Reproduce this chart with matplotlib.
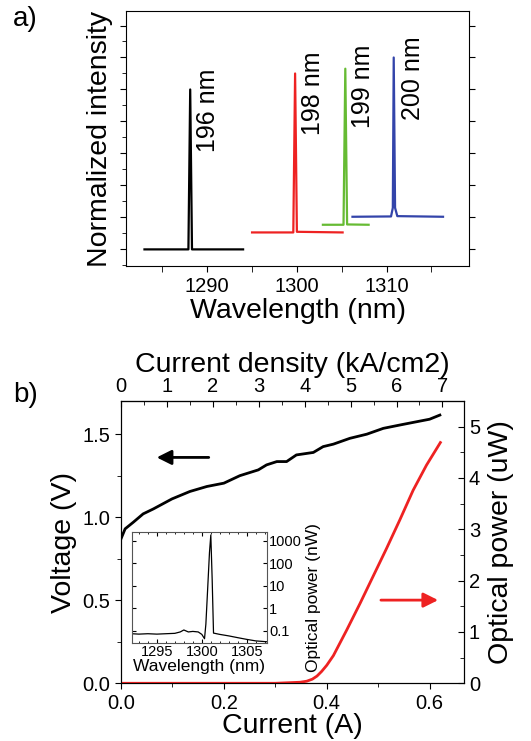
import matplotlib
matplotlib.use("Agg")
from matplotlib import pyplot as plt
from matplotlib.ticker import MultipleLocator, FixedLocator, NullLocator

plt.rcParams['font.family'] = ['Liberation Sans', 'DejaVu Sans']

# panel a: lasing spectra for four devices (wavelength nm, normalized intensity)
black_wl = [1283.0, 1287.9, 1288.1, 1288.3, 1294.0]
black_int = [0.0, 0.0, 5.0, 0.0, 0.0]
red_wl = [1295.0, 1299.6, 1299.8, 1300.0, 1305.1]
red_int = [0.53, 0.53, 5.5, 0.55, 0.53]
green_wl = [1302.9, 1305.2, 1305.4, 1305.6, 1308.0]
green_int = [0.77, 0.77, 5.65, 0.78, 0.77]
blue_wl = [1306.2, 1310.5, 1310.7, 1310.8, 1310.95, 1311.2, 1316.3]
blue_int = [1.02, 1.03, 1.3, 6.0, 1.3, 1.04, 1.02]
spec_labels = ["196 nm", "198 nm", "199 nm", "200 nm"]
label_x = [1290.1, 1301.8, 1307.4, 1313.0]
label_y = [3.04, 3.57, 3.78, 4.04]

# panel b: L-I-V
current_v = [0.0, 0.008, 0.024, 0.043, 0.063, 0.099, 0.134, 0.167, 0.200, 0.231,
             0.267, 0.283, 0.303, 0.322, 0.341, 0.374, 0.393, 0.413, 0.445, 0.478,
             0.510, 0.542, 0.575, 0.600, 0.620]
voltage = [0.87, 0.93, 0.97, 1.02, 1.05, 1.11, 1.155, 1.185, 1.205, 1.25,
           1.285, 1.315, 1.335, 1.335, 1.375, 1.39, 1.425, 1.44, 1.475, 1.50,
           1.535, 1.555, 1.575, 1.59, 1.615]
current_p = [0.0, 0.30, 0.348, 0.361, 0.372, 0.381, 0.390, 0.400, 0.413, 0.439,
             0.465, 0.490, 0.516, 0.542, 0.568, 0.594, 0.621]
power_uw = [0.0, 0.0, 0.02, 0.04, 0.08, 0.14, 0.23, 0.35, 0.54, 1.04,
            1.56, 2.08, 2.62, 3.18, 3.76, 4.25, 4.69]
density_per_amp = 11.2  # kA/cm2 per A

# inset: spectrum above threshold (log scale, nW)
inset_wl = [1292.2, 1293.0, 1294.0, 1295.0, 1296.0, 1297.0, 1297.6, 1298.0, 1298.5,
            1299.0, 1299.6, 1300.0, 1300.3, 1300.45, 1300.6, 1300.85, 1301.0, 1301.15,
            1301.3, 1302.0, 1303.0, 1304.0, 1305.0, 1306.0, 1307.2]
inset_pw = [0.075, 0.072, 0.075, 0.072, 0.075, 0.078, 0.09, 0.11, 0.09,
            0.095, 0.09, 0.07, 0.045, 0.2, 3.0, 300, 1850, 20,
            0.08, 0.07, 0.06, 0.05, 0.042, 0.036, 0.033]

fig = plt.figure(figsize=(5.31, 7.41), dpi=100)

# ---------- a) ----------
ax = fig.add_axes([0.2373, 0.641, 0.646, 0.344])
ax.plot(black_wl, black_int, color="black", lw=1.6)
ax.plot(red_wl, red_int, color="#ee2222", lw=1.6)
ax.plot(green_wl, green_int, color="#66bb33", lw=1.6)
ax.plot(blue_wl, blue_int, color="#3344aa", lw=1.6)
for t, x, y in zip(spec_labels, label_x, label_y):
    ax.text(x, y, t, rotation=90, ha="center", va="bottom", fontsize=18)
ax.set_xlim(1280.94, 1319.2)
ax.set_ylim(-0.52, 7.45)
ax.xaxis.set_major_locator(MultipleLocator(10))
ax.xaxis.set_minor_locator(MultipleLocator(5))
ax.yaxis.set_major_locator(MultipleLocator(1))
ax.yaxis.set_minor_locator(MultipleLocator(0.5))
ax.tick_params(axis="x", which="both", direction="out", labelsize=14.5, pad=4, length=4)
ax.tick_params(axis="y", which="both", direction="out", labelleft=False, right=True)
ax.tick_params(axis="y", which="major", length=4)
ax.tick_params(axis="y", which="minor", length=3, right=False)
ax.set_xlabel("Wavelength (nm)", fontsize=20.5, labelpad=1)
ax.set_ylabel("Normalized intensity", fontsize=20.5)
ax.yaxis.set_label_coords(-0.038, 0.5)
fig.text(0.024, 0.992, "a)", fontsize=20, va="top")

# ---------- b) ----------
axb = fig.add_axes([0.2279, 0.0779, 0.646, 0.381])
axb.plot(current_v, voltage, color="black", lw=2)
axb.set_xlim(0, 0.667)
axb.set_ylim(0, 1.70)
axb.xaxis.set_major_locator(MultipleLocator(0.2))
axb.xaxis.set_minor_locator(MultipleLocator(0.1))
axb.yaxis.set_major_locator(MultipleLocator(0.5))
axb.yaxis.set_minor_locator(MultipleLocator(0.25))
axb.xaxis.set_major_formatter(matplotlib.ticker.FormatStrFormatter("%.1f"))
axb.yaxis.set_major_formatter(matplotlib.ticker.FormatStrFormatter("%.1f"))
axb.tick_params(which="both", direction="out", labelsize=14.5)
axb.tick_params(which="major", length=4)
axb.tick_params(which="minor", length=3)
axb.set_xlabel("Current (A)", fontsize=20.5, labelpad=0)
axb.set_ylabel("Voltage (V)", fontsize=20.5, labelpad=4)
axb.annotate("", xy=(0.064, 1.36), xytext=(0.176, 1.36),
             arrowprops=dict(arrowstyle="-|>", color="black", lw=2, mutation_scale=22))

axr = axb.twinx()
axr.plot(current_p, power_uw, color="#ee2222", lw=2)
axr.set_ylim(0, 5.5)
axr.yaxis.set_major_locator(MultipleLocator(1))
axr.yaxis.set_minor_locator(MultipleLocator(0.5))
axr.tick_params(which="both", direction="in", labelsize=14.5)
axr.tick_params(which="major", length=4)
axr.tick_params(which="minor", length=3)
axr.set_ylabel("Optical power (uW)", fontsize=20.5, labelpad=6)
axr.annotate("", xy=(0.622, 1.62), xytext=(0.5, 1.62),
             arrowprops=dict(arrowstyle="-|>", color="#ee2222", lw=2, mutation_scale=22))

top = axb.secondary_xaxis("top", functions=(lambda i: i * density_per_amp,
                                            lambda j: j / density_per_amp))
top.xaxis.set_major_locator(MultipleLocator(1))
top.xaxis.set_minor_locator(MultipleLocator(0.5))
top.tick_params(which="both", direction="in", labelsize=14.5)
top.tick_params(which="major", length=4)
top.tick_params(which="minor", length=3)
top.set_xlabel("Current density (kA/cm2)", fontsize=20.5, labelpad=4)
fig.text(0.024, 0.484, "b)", fontsize=20, va="top")

# inset
axi = fig.add_axes([0.248, 0.1327, 0.254, 0.149])
axi.plot(inset_wl, inset_pw, color="black", lw=0.9)
axi.set_yscale("log")
axi.set_xlim(1292.2, 1307.2)
axi.set_ylim(0.03, 2440)
axi.xaxis.set_major_locator(MultipleLocator(5))
axi.xaxis.set_minor_locator(MultipleLocator(1))
axi.yaxis.set_major_locator(FixedLocator([0.1, 1, 10, 100, 1000]))
axi.yaxis.set_major_formatter(matplotlib.ticker.FixedFormatter(["0.1", "1", "10", "100", "1000"]))
axi.yaxis.set_minor_locator(NullLocator())
axi.yaxis.tick_right()
axi.yaxis.set_label_position("right")
axi.tick_params(which="both", direction="in", labelsize=10.5, top=True, left=True,
                right=True, pad=2)
axi.tick_params(which="major", length=3)
axi.tick_params(which="minor", length=1.5)
for s in axi.spines.values():
    s.set_color("#555555")
    s.set_linewidth(0.8)
axi.set_xlabel("Wavelength (nm)", fontsize=12.5, labelpad=0)
axi.set_ylabel("Optical power (nW)", fontsize=12.5)
axi.yaxis.set_label_coords(1.29, 0.41)

fig.savefig("out.png", dpi=100)
